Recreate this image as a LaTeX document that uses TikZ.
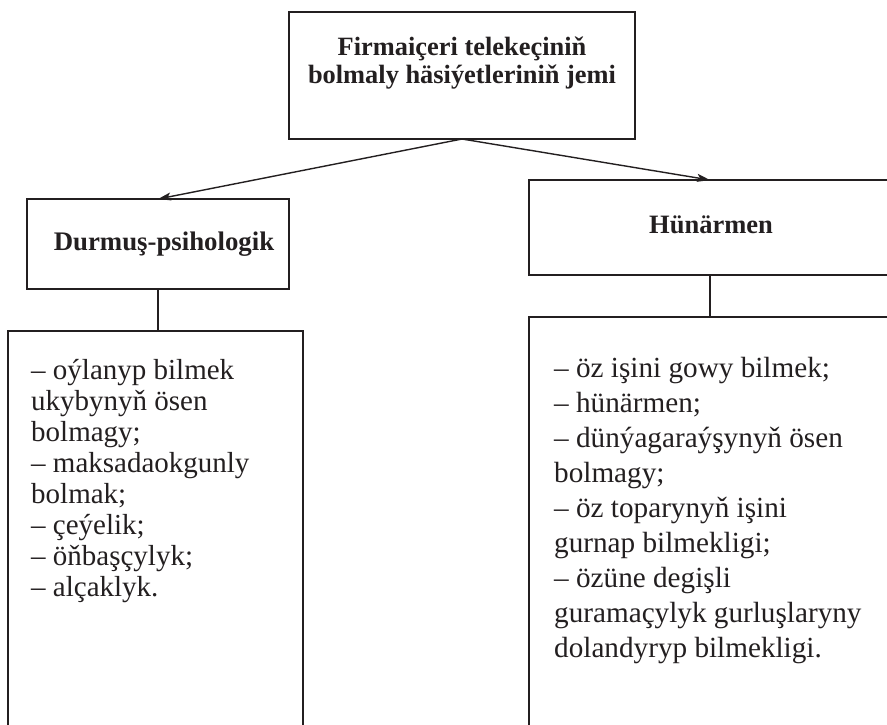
\documentclass[tikz,border=0pt]{standalone}
\usepackage{fontspec}
\setmainfont{Liberation Serif}
\usetikzlibrary{arrows.meta}
\definecolor{ink}{HTML}{231F20}
\begin{document}
\begin{tikzpicture}[x=1pt,y=-1pt,
  box/.style={draw=ink, line width=1.5pt, inner sep=0pt, outer sep=0pt, anchor=north west},
  conn/.style={draw=ink, line width=1.4pt},
  arr/.style={conn, -{Stealth[length=13pt,width=8pt,inset=3pt]}},
  lbl/.style={inner sep=0pt, text=ink}]
\useasboundingbox (0,0) rectangle (887,724);
\clip (0,0) rectangle (887,724);
% boxes
\node[box, minimum width=346pt, minimum height=127pt] (top) at (289,12) {};
\node[box, minimum width=262pt, minimum height=90pt] (psy) at (27,199) {};
\node[box, minimum width=295pt, minimum height=420pt] (psylist) at (8,331) {};
\node[box, minimum width=362pt, minimum height=95pt] (hun) at (529,180) {};
\node[box, minimum width=362pt, minimum height=440pt] (hunlist) at (529,317) {};
% texts
\node[lbl, anchor=base] (toptext) at (462,55) {\parbox[t]{340pt}{\centering\bfseries\fontsize{26.4}{28.5}\selectfont Firmaiçeri telekeçiniň\\ bolmaly häsiýetleriniň jemi}};
\node[lbl, anchor=base] (psytext) at (164,250) {\bfseries\fontsize{26.8}{28}\selectfont Durmuş-psihologik};
\node[lbl, anchor=base] (huntext) at (711,233) {\bfseries\fontsize{26.5}{28}\selectfont Hünärmen};
\node[lbl, anchor=base west] (psyitems) at (31,379) {\parbox[t]{270pt}{\raggedright\fontsize{29}{31.1}\selectfont
– oýlanyp bilmek\\
ukybynyň ösen\\
bolmagy;\\
– maksadaokgunly\\
bolmak;\\
– çeýelik;\\
– öňbaşçylyk;\\
– alçaklyk.}};
\node[lbl, anchor=base west] (hunitems) at (554,377) {\parbox[t]{330pt}{\raggedright\fontsize{29.2}{35.1}\selectfont
– öz işini gowy bilmek;\\
– hünärmen;\\
– dünýagaraýşynyň ösen\\
bolmagy;\\
– öz toparynyň işini\\
gurnap bilmekligi;\\
– özüne degişli\\
guramaçylyk gurluşlaryny\\
dolandyryp bilmekligi.}};
% connectors
\draw[arr] (top.south) -- (psy.north);
\draw[arr] (top.south) -- (hun.north);
\draw[conn] (psy.south) -- (psy.south |- psylist.north);
\draw[conn] (hun.south) -- (hunlist.north);
\end{tikzpicture}
\end{document}
